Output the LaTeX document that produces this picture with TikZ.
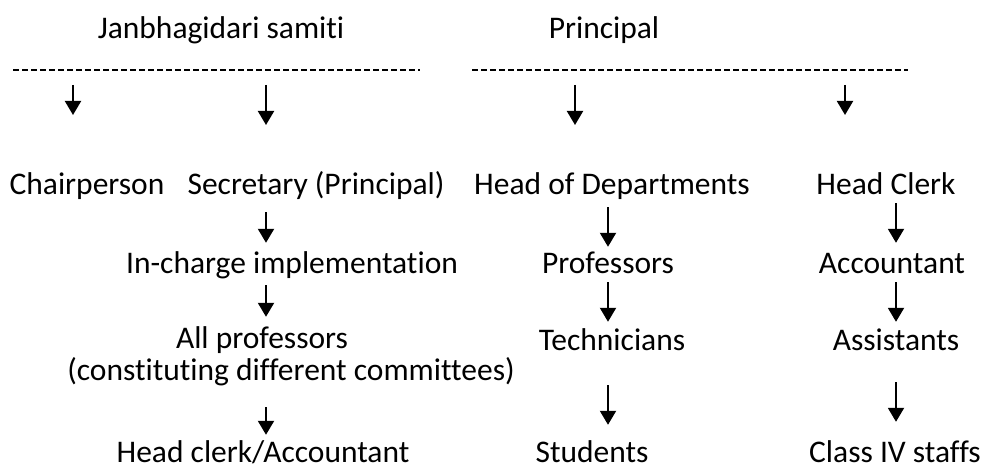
\documentclass[tikz,border=0pt]{standalone}
\usepackage{fontspec}
\setmainfont{Carlito}[Ligatures=CommonOff]
\usetikzlibrary{arrows.meta}
\tikzset{
    lbl/.style={anchor=base, inner sep=0pt, text height=21pt, text depth=7pt,
                font=\fontsize{31.5}{38}\selectfont},
    arr/.style={line width=2pt, -{Triangle[length=14pt,width=16pt]}},
    dashline/.style={line width=2.4pt, dash pattern=on 6pt off 3pt}
}
\begin{document}
\begin{tikzpicture}[x=1pt,y=-1pt]
        \useasboundingbox (0,0) rectangle (984,470);
        % headings
        \node[lbl] (jan)  at (221,39) {Janbhagidari samiti};
        \node[lbl] (prin) at (604,39) {Principal};
        % dashed rules under the headings
        \coordinate (l1) at (13,70);  \coordinate (l2) at (420,70);
        \coordinate (r1) at (472,70); \coordinate (r2) at (908,70);
        \draw[dashline] (l1) -- (l2);
        \draw[dashline] (r1) -- (r2);
        % arrows below the rules
        \coordinate (t1) at (73,85);  \coordinate (t2) at (266,85);
        \coordinate (t3) at (575,85); \coordinate (t4) at (845,85);
        \draw[arr] (t1) -- ++(0,30);
        \draw[arr] (t2) -- ++(0,40);
        \draw[arr] (t3) -- ++(0,40);
        \draw[arr] (t4) -- ++(0,30);
        % first row
        \node[lbl] (chair)  at (87,195)  {Chairperson};
        \node[lbl] (secr)   at (316,195) {Secretary (Principal)};
        \node[lbl] (hod)    at (612,195) {Head of Departments};
        \node[lbl] (hclerk) at (886,195) {Head Clerk};
        % second row
        \node[lbl] (inch) at (292,273) {In-charge implementation};
        \node[lbl] (prof) at (608,273) {Professors};
        \node[lbl] (acct) at (892,273) {Accountant};
        % third row
        \node[lbl] (allprof) at (262,348) {All professors};
        \node[lbl] (constit) at (291,380) {(constituting different committees)};
        \node[lbl] (tech)    at (612,350) {Technicians};
        \node[lbl] (asst)    at (896,350) {Assistants};
        % last row
        \node[lbl] (hcacc)  at (263,462) {Head clerk/Accountant};
        \node[lbl] (stud)   at (592,462) {Students};
        \node[lbl] (class4) at (895,462) {Class IV staffs};
        % arrow columns
        \coordinate (c1) at (266,0);
        \coordinate (c2) at (608,0);
        \coordinate (c3) at (896,0);
        % left column
        \draw[arr] ([yshift=-10pt]secr.south -| c1)    -- ([yshift=9pt]inch.north -| c1);
        \draw[arr] ([yshift=-5pt]inch.south -| c1)     -- ([yshift=10pt]allprof.north -| c1);
        \draw[arr] ([yshift=-20pt]constit.south -| c1) -- ([yshift=6pt]hcacc.north -| c1);
        % middle column
        \draw[arr] ([yshift=-5pt]hod.south -| c2)   -- ([yshift=5pt]prof.north -| c2);
        \draw[arr] ([yshift=-2pt]prof.south -| c2)  -- ([yshift=7pt]tech.north -| c2);
        \draw[arr] ([yshift=-28pt]tech.south -| c2) -- ([yshift=16pt]stud.north -| c2);
        % right column
        \draw[arr] ([yshift=-1pt]hclerk.south -| c3) -- ([yshift=9pt]acct.north -| c3);
        \draw[arr] ([yshift=-2pt]acct.south -| c3)   -- ([yshift=7pt]asst.north -| c3);
        \draw[arr] ([yshift=-25pt]asst.south -| c3)  -- ([yshift=19pt]class4.north -| c3);
\end{tikzpicture}
\end{document}
